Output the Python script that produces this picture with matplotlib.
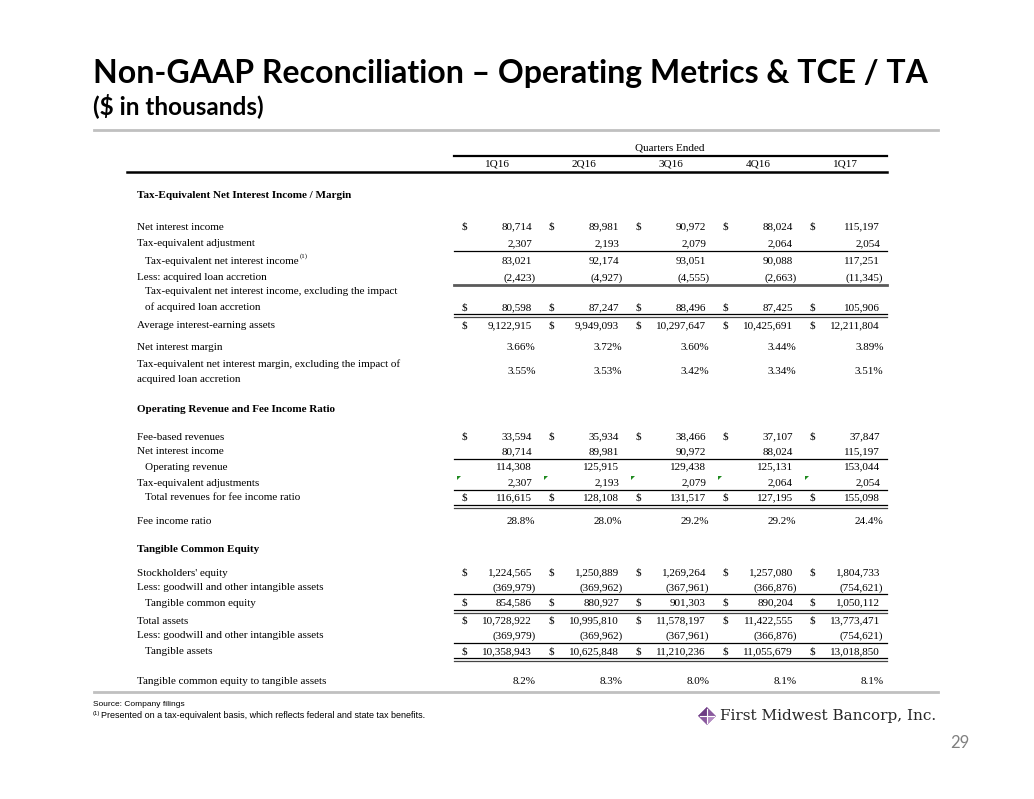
import matplotlib
matplotlib.use("Agg")
import matplotlib.pyplot as plt
from matplotlib.patches import Polygon

# Data (in thousands unless %)
quarters = ["1Q16", "2Q16", "3Q16", "4Q16", "1Q17"]
net_interest_income = [80714, 89981, 90972, 88024, 115197]
te_adjustment = [2307, 2193, 2079, 2064, 2054]
te_net_interest_income = [83021, 92174, 93051, 90088, 117251]
acquired_loan_accretion = [-2423, -4927, -4555, -2663, -11345]
te_nii_ex_accretion = [80598, 87247, 88496, 87425, 105906]
avg_earning_assets = [9122915, 9949093, 10297647, 10425691, 12211804]
net_interest_margin = [3.66, 3.72, 3.60, 3.44, 3.89]
te_nim_ex_accretion = [3.55, 3.53, 3.42, 3.34, 3.51]
fee_based_revenues = [33594, 35934, 38466, 37107, 37847]
operating_revenue = [114308, 125915, 129438, 125131, 153044]
total_revenues_fee_ratio = [116615, 128108, 131517, 127195, 155098]
fee_income_ratio = [28.8, 28.0, 29.2, 29.2, 24.4]
stockholders_equity = [1224565, 1250889, 1269264, 1257080, 1804733]
goodwill_intangibles = [-369979, -369962, -367961, -366876, -754621]
tangible_common_equity = [854586, 880927, 901303, 890204, 1050112]
total_assets = [10728922, 10995810, 11578197, 11422555, 13773471]
tangible_assets = [10358943, 10625848, 11210236, 11055679, 13018850]
tce_to_ta = [8.2, 8.3, 8.0, 8.1, 8.1]

SERIF = "Liberation Serif"
FS = 8

fig = plt.figure(figsize=(10.34, 7.99), dpi=100)
ax = fig.add_axes([0, 0, 1, 1])
ax.set_xlim(0, 1034)
ax.set_ylim(799, 0)
ax.axis("off")

# title block
ax.text(93, 73, "Non-GAAP Reconciliation \u2013 Operating Metrics & TCE / TA",
        family="Lato", weight="bold", fontsize=23, va="center", ha="left")
ax.text(93, 106, "($ in thousands)", family="Lato", weight="bold",
        fontsize=17.5, va="center", ha="left")
ax.plot([94, 938], [130, 130], color="#c0c0c0", lw=2)
ax.plot([94, 938], [692, 692], color="#c0c0c0", lw=2)

# column geometry
col_right = [532 + 87 * i for i in range(5)]
col_dollar = [464 + 87 * i for i in range(5)]
col_center = [497 + 87 * i for i in range(5)]
x_label, x_indent = 137, 145
line_x0, line_x1 = 454, 887

ax.text(670, 148, "Quarters Ended", family=SERIF, fontsize=FS, ha="center", va="center")
ax.plot([line_x0, line_x1], [156, 156], color="black", lw=1.6)
for q, xc in zip(quarters, col_center):
    ax.text(xc, 164, q, family=SERIF, fontsize=FS, ha="center", va="center")
ax.plot([127, line_x1], [172, 172], color="black", lw=1.8)


def fmt(v, kind):
    if kind == "pct":
        return f"{v:.2f}%" if abs(v) < 5 else f"{v:.1f}%"
    if v < 0:
        return f"({abs(v):,})"
    return f"{v:,}"


def values(y, vals, kind="num", dollar=False):
    for i, v in enumerate(vals):
        s = fmt(v, kind)
        hang = 3.5 if (kind == "pct" or v < 0) else 0
        ax.text(col_right[i] + hang, y, s, family=SERIF, fontsize=FS,
                ha="right", va="center")
        if dollar:
            ax.text(col_dollar[i], y, "$", family=SERIF, fontsize=FS,
                    ha="center", va="center")


def label(y, s, indent=False, bold=False):
    return ax.text(x_indent if indent else x_label, y, s, family=SERIF,
                   fontsize=FS, weight="bold" if bold else "normal",
                   ha="left", va="center")


def hline(y, style="single"):
    if style == "single":
        ax.plot([line_x0, line_x1], [y, y], color="black", lw=0.9)
    elif style == "double":
        ax.plot([line_x0, line_x1], [y, y], color="black", lw=0.9)
        ax.plot([line_x0, line_x1], [y + 2.6, y + 2.6], color="#444444", lw=0.9)
    elif style == "thick":
        ax.plot([line_x0, line_x1], [y, y], color="#5a5a5a", lw=2.0)


# Section 1
label(195, "Tax-Equivalent Net Interest Income / Margin", bold=True)
label(227, "Net interest income"); values(227, net_interest_income, dollar=True)
label(244, "Tax-equivalent adjustment"); values(244, te_adjustment)
hline(251)
t = label(261, "Tax-equivalent net interest income", indent=True)
values(261, te_net_interest_income)
label(278, "Less: acquired loan accretion"); values(278, acquired_loan_accretion)
hline(285, "thick")
label(291, "Tax-equivalent net interest income, excluding the impact", indent=True)
label(307, "of acquired loan accretion", indent=True)
values(308, te_nii_ex_accretion, dollar=True)
hline(314, "double")
label(326, "Average interest-earning assets"); values(326, avg_earning_assets, dollar=True)
label(347, "Net interest margin"); values(347, net_interest_margin, "pct")
label(364, "Tax-equivalent net interest margin, excluding the impact of")
label(380, "acquired loan accretion")
values(372, te_nim_ex_accretion, "pct")

# Section 2
label(409, "Operating Revenue and Fee Income Ratio", bold=True)
label(437, "Fee-based revenues"); values(437, fee_based_revenues, dollar=True)
label(452, "Net interest income"); values(452, net_interest_income)
hline(459)
label(467, "Operating revenue", indent=True); values(467, operating_revenue)
label(483, "Tax-equivalent adjustments"); values(483, te_adjustment)
for xd in col_dollar:
    ax.add_patch(Polygon([[xd - 7, 476], [xd - 3, 476], [xd - 7, 480]],
                         closed=True, color="#1f8a1f", lw=0))
hline(490)
label(498, "Total revenues for fee income ratio", indent=True)
values(498, total_revenues_fee_ratio, dollar=True)
hline(505, "double")
label(521, "Fee income ratio"); values(521, fee_income_ratio, "pct")

# Section 3
label(550, "Tangible Common Equity", bold=True)
label(573, "Stockholders' equity"); values(573, stockholders_equity, dollar=True)
label(588, "Less: goodwill and other intangible assets"); values(588, goodwill_intangibles)
hline(594)
label(603, "Tangible common equity", indent=True)
values(603, tangible_common_equity, dollar=True)
hline(610, "double")
label(621, "Total assets"); values(621, total_assets, dollar=True)
label(636, "Less: goodwill and other intangible assets"); values(636, goodwill_intangibles)
hline(643)
label(652, "Tangible assets", indent=True); values(652, tangible_assets, dollar=True)
hline(658, "double")
label(682, "Tangible common equity to tangible assets"); values(682, tce_to_ta, "pct")

# superscript after the tax-equivalent NII label
fig.canvas.draw()
r = fig.canvas.get_renderer()
bb = t.get_window_extent(r)
x_end = bb.x1  # pixel coords == data x (axes covers figure)
ax.text(x_end + 1, 256, "(1)", family=SERIF, fontsize=5, ha="left", va="center")

# footnotes
ax.text(93, 704, "Source: Company filings", family="Liberation Sans",
        fontsize=6, ha="left", va="center")
ax.text(93, 714, "(1)", family="Liberation Sans", fontsize=4.2, ha="left", va="center")
ax.text(101, 716, "Presented on a tax-equivalent basis, which reflects federal and state tax benefits.",
        family="Liberation Sans", fontsize=6.5, ha="left", va="center")

# logo
cx, cy, h = 707, 716, 9
ax.add_patch(Polygon([[cx, cy - h], [cx + h, cy], [cx, cy + h], [cx - h, cy]],
                     closed=True, color="#8a5a9e", lw=0))
ax.add_patch(Polygon([[cx, cy - h], [cx, cy], [cx - h, cy]], closed=True,
                     color="#6e3d84", lw=0))
ax.add_patch(Polygon([[cx, cy + h], [cx, cy], [cx + h, cy]], closed=True,
                     color="#b58cc4", lw=0))
ax.plot([cx - h + 2, cx + h - 2], [cy, cy], color="white", lw=0.8)
ax.plot([cx, cx], [cy - h + 2, cy + h - 2], color="white", lw=0.8)
ax.text(720, 716, "First Midwest Bancorp, Inc.", family="DejaVu Serif",
        fontsize=11, color="#262626", ha="left", va="center")

ax.text(960, 743, "29", family="Lato", fontsize=12, color="#808080",
        ha="center", va="center")

fig.savefig("out.png", dpi=100)
